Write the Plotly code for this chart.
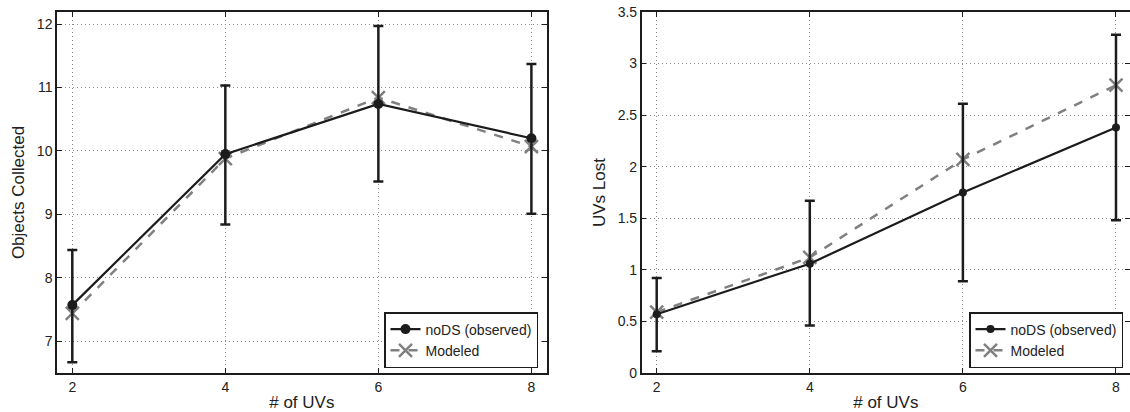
import plotly.graph_objects as go

uvs = [2, 4, 6, 8]

# Left panel: Objects Collected
obj_obs = [7.57, 9.95, 10.74, 10.20]
obj_obs_plus = [0.87, 1.08, 1.23, 1.17]
obj_obs_minus = [0.90, 1.11, 1.22, 1.19]
obj_mod = [7.44, 9.88, 10.84, 10.07]

# Right panel: UVs Lost
lost_obs = [0.57, 1.06, 1.75, 2.38]
lost_obs_plus = [0.35, 0.61, 0.86, 0.90]
lost_obs_minus = [0.36, 0.60, 0.86, 0.90]
lost_mod = [0.59, 1.12, 2.07, 2.79]

obs_name = "noDS (observed)"
mod_name = "Modeled"

BLACK = "#1c1c1c"
GRAY = "#808080"
FONT = "Liberation Sans, Arial, Helvetica, sans-serif"

fig = go.Figure()

def add_panel(xa, ya, obs, plus, minus, mod, legend, msize):
    fig.add_trace(go.Scatter(
        x=uvs, y=mod, name=mod_name, mode="lines+markers",
        line=dict(color=GRAY, width=2.5, dash="dash"),
        marker=dict(symbol="x-thin", size=13, line=dict(color=GRAY, width=2.5)),
        xaxis=xa, yaxis=ya, legend=legend, legendrank=2,
    ))
    fig.add_trace(go.Scatter(
        x=uvs, y=obs, name=obs_name, mode="lines+markers",
        line=dict(color=BLACK, width=2.2),
        marker=dict(symbol="circle", size=msize, color=BLACK),
        error_y=dict(type="data", array=plus, arrayminus=minus, symmetric=False,
                     color=BLACK, thickness=2.5, width=5),
        xaxis=xa, yaxis=ya, legend=legend, legendrank=1,
    ))

add_panel("x", "y", obj_obs, obj_obs_plus, obj_obs_minus, obj_mod, "legend", 10)
add_panel("x2", "y2", lost_obs, lost_obs_plus, lost_obs_minus, lost_mod, "legend2", 8)

L, T, B = 57, 12, 39
W, H = 1130, 412
PW = W - L
PH = H - T - B

def dom(a, b):
    return [(a - L) / PW, (b - L) / PW]

def legy(py):
    return (H - B - py) / PH

axis_common = dict(
    showline=True, linecolor=BLACK, linewidth=1.5, mirror="ticks",
    ticks="inside", ticklen=5, tickwidth=1, tickcolor=BLACK,
    showgrid=True, gridcolor="#8a8a8a", griddash="1px,3px", gridwidth=1,
    zeroline=False, automargin=False,
    tickfont=dict(family=FONT, size=14, color="#222222"),
)

legend_common = dict(
    xanchor="left", yanchor="bottom",
    bgcolor="white", bordercolor=BLACK, borderwidth=1.5,
    font=dict(family=FONT, size=14, color="#222222"),
    tracegroupgap=0, itemwidth=30,
)

TITLE_FONT = dict(family=FONT, size=17, color="#222222")

fig.update_layout(
    width=W, height=H,
    margin=dict(l=L, r=0, t=T, b=B),
    paper_bgcolor="white", plot_bgcolor="white",
    font=dict(family=FONT, color="#222222"),
    xaxis=dict(domain=dom(57, 546.7), range=[1.8, 8.2], tickvals=uvs,
               title=dict(text="# of UVs", font=TITLE_FONT, standoff=5),
               anchor="y", **axis_common),
    yaxis=dict(domain=[0, 1], range=[6.5, 12.19], tickvals=[7, 8, 9, 10, 11, 12],
               title=dict(text="Objects Collected", font=TITLE_FONT, standoff=8),
               anchor="x", **axis_common),
    xaxis2=dict(domain=dom(641.7, 1130), range=[1.804, 8.183], tickvals=uvs,
                title=dict(text="# of UVs", font=TITLE_FONT, standoff=5),
                anchor="y2", **axis_common),
    yaxis2=dict(domain=[0, 1], range=[0, 3.5],
                tickvals=[0, 0.5, 1, 1.5, 2, 2.5, 3, 3.5],
                ticktext=["0", "0.5", "1", "1.5", "2", "2.5", "3", "3.5"],
                title=dict(text="UVs Lost", font=TITLE_FONT, standoff=8),
                anchor="x2", **axis_common),
    legend=dict(x=dom(384, 384)[0], y=legy(368), **legend_common),
    legend2=dict(x=dom(969, 969)[0], y=legy(368), **legend_common),
)

fig.write_html("out.html", config={"displayModeBar": False},
               post_script="document.body.style.margin='0px';document.body.style.overflow='hidden';")
